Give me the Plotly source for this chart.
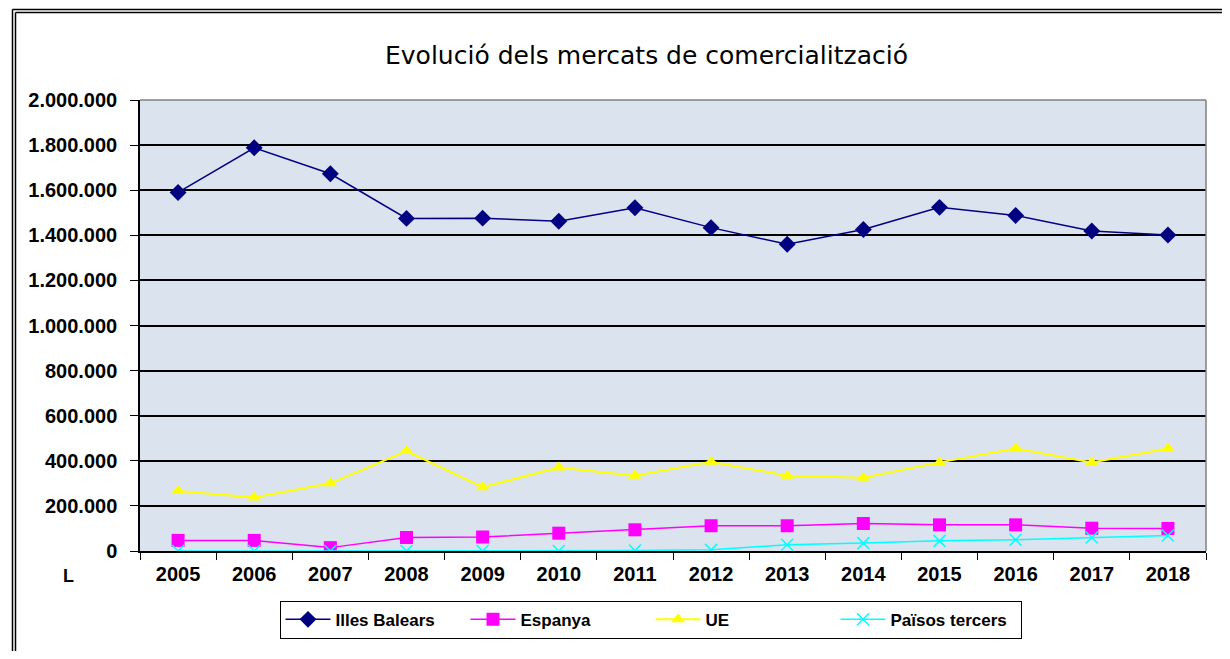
import plotly.graph_objects as go

years = ["2005", "2006", "2007", "2008", "2009", "2010", "2011", "2012",
         "2013", "2014", "2015", "2016", "2017", "2018"]
illes_balears = [1590000, 1788000, 1673000, 1475000, 1476000, 1462000, 1522000,
                 1434000, 1360000, 1426000, 1524000, 1488000, 1419000, 1401000]
espanya = [47000, 47000, 15000, 60000, 62000, 79000, 94000,
           112000, 112000, 122000, 116000, 116000, 101000, 100000]
ue = [266000, 237000, 300000, 443000, 283000, 370000, 334000,
      396000, 334000, 325000, 393000, 455000, 392000, 455000]
paisos_tercers = [0, 0, 0, 0, 0, 0, 2000, 5000, 28000, 35000, 45000, 50000, 60000, 69000]
y_ticks = [0, 200000, 400000, 600000, 800000, 1000000, 1200000, 1400000,
           1600000, 1800000, 2000000]

# page has an 8px body margin: work in page pixels, convert to figure pixels
OFF = 8
W, H = 1230 - 2 * OFF, 659 - 2 * OFF
L, R, T, B = 140 - OFF, 1206 - OFF, 100 - OFF, 553 - OFF
pw, ph = R - L, B - T

def px(X):
    return (X - OFF - L) / pw

def py(Y):
    return (B - (Y - OFF)) / ph

FONT = "Liberation Sans, Arial, sans-serif"

fig = go.Figure()
fig.add_trace(go.Scatter(x=years, y=illes_balears, name="Illes Balears", mode="lines+markers",
                         line=dict(color="#000080", width=1.5),
                         marker=dict(symbol="diamond", size=13, color="#000080")))
fig.add_trace(go.Scatter(x=years, y=espanya, name="Espanya", mode="lines+markers",
                         line=dict(color="#ff00ff", width=1.5),
                         marker=dict(symbol="square", size=13, color="#ff00ff")))
fig.add_trace(go.Scatter(x=years, y=ue, name="UE", mode="lines+markers",
                         line=dict(color="#ffff00", width=2),
                         marker=dict(symbol="triangle-up", size=12, color="#ffff00")))
fig.add_trace(go.Scatter(x=years, y=paisos_tercers, name="Països tercers", mode="lines+markers",
                         line=dict(color="#00ffff", width=1.5),
                         marker=dict(symbol="x-thin", size=12, color="#00ffff",
                                     line=dict(color="#00ffff", width=1.5))))

fig.update_layout(
    width=W, height=H,
    margin=dict(l=L, r=W - R, t=T, b=H - B),
    paper_bgcolor="white",
    plot_bgcolor="#dbe3ef",
    separators=",.",
    font=dict(family=FONT, color="black"),
    title=dict(text="Evolució dels mercats de comercialització",
               x=(646.5 - OFF) / W, xanchor="center",
               y=1 - (55 - OFF) / H, yanchor="middle",
               font=dict(size=25, color="black", family="DejaVu Sans, sans-serif")),
    showlegend=True,
    legend=dict(orientation="h", x=px(650.5), xanchor="center", y=py(603), yanchor="top",
                bgcolor="white", bordercolor="black", borderwidth=1,
                font=dict(size=17, family=FONT, weight="bold"),
                entrywidth=125, itemwidth=45, traceorder="normal"),
    xaxis=dict(type="category", range=[-0.5, 13.5], showgrid=False,
               showline=True, linecolor="black", linewidth=1.5,
               ticks="outside", tickson="boundaries", ticklen=7, tickcolor="black",
               ticklabelstandoff=4,
               tickfont=dict(size=20, weight="bold", family=FONT)),
    yaxis=dict(range=[0, 2000000], tickvals=y_ticks, tickformat=",d",
               showgrid=True, gridcolor="black", gridwidth=1.5,
               showline=True, linecolor="black", linewidth=1.5,
               ticks="outside", ticklen=8, tickcolor="black", zeroline=False,
               ticklabelstandoff=9,
               tickfont=dict(size=20, weight="bold", family=FONT)),
)

# plot area gray border (top/right)
fig.add_shape(type="line", xref="paper", yref="paper", x0=0, x1=1, y0=1, y1=1,
              line=dict(color="#808080", width=1.5))
fig.add_shape(type="line", xref="paper", yref="paper", x0=1, x1=1, y0=0, y1=1,
              line=dict(color="#808080", width=1.5))

# outer double frame (left and top edges; right/bottom lie outside the view)
for xf, yf in [(12.5, 9.0), (15.5, 12.0)]:
    fig.add_shape(type="line", xref="paper", yref="paper",
                  x0=px(xf), x1=px(xf), y0=py(yf), y1=py(700),
                  line=dict(color="black", width=1.5))
    fig.add_shape(type="line", xref="paper", yref="paper",
                  x0=px(xf), x1=px(1260), y0=py(yf), y1=py(yf),
                  line=dict(color="black", width=1.5))

fig.add_annotation(text="L", xref="paper", yref="paper", x=px(68), y=py(578),
                   showarrow=False, xanchor="center", yanchor="middle",
                   font=dict(size=18, weight="bold", color="black"))

fig.write_html("out.html")
